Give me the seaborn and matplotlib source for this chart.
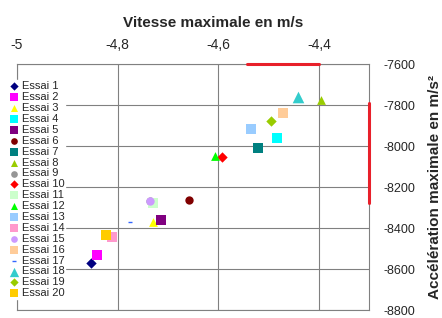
import numpy as np
import pandas as pd
import seaborn as sns
import matplotlib.pyplot as plt
from matplotlib.ticker import FuncFormatter

# values
essais = ["Essai %d" % i for i in range(1, 21)]
vitesse = [-4.852, -4.841, -4.729, -4.483, -4.714, -4.659, -4.521, -4.395, -4.735, -4.592,
           -4.729, -4.606, -4.536, -4.812, -4.735, -4.472, -4.776, -4.441, -4.495, -4.824]
acceleration = [-8568, -8530, -8368, -7958, -8360, -8262, -8007, -7774, -8268, -8054,
                -8278, -8047, -7916, -8444, -8268, -7839, -8369, -7761, -7877, -8436]
couleurs = ["#000080", "#FF00FF", "#FFFF00", "#00FFFF", "#800080", "#800000", "#008080",
            "#99CC00", "#969696", "#FF0000", "#CCFFCC", "#00FF00", "#99CCFF", "#FF99CC",
            "#CC99FF", "#FFCC99", "#3366FF", "#33CCCC", "#99CC00", "#FFCC00"]
marqueurs = ["D", "s", "^", "s", "s", "o", "s", "^", "o", "D",
             "s", "^", "s", "s", "o", "s", "_", "^", "D", "s"]
tailles = [28, 50, 40, 50, 50, 36, 50, 40, 36, 28,
           50, 40, 50, 50, 36, 50, 12, 70, 28, 50]

x_ticks = [-5, -4.8, -4.6, -4.4]
y_ticks = [-7600, -7800, -8000, -8200, -8400, -8600, -8800]

# red bars seen along the top and right edges
barre_h_x = [-4.5425, -4.4]
barre_h_y = [-7600, -7600]
barre_v_x = [-4.3, -4.3]
barre_v_y = [-7789, -8277]

df = pd.DataFrame({"essai": essais, "vitesse": vitesse, "acceleration": acceleration})

sns.set_style("white")
plt.rcParams["font.family"] = ["Liberation Sans", "DejaVu Sans"]
plt.rcParams["axes.unicode_minus"] = False

fig = plt.figure(figsize=(4.42, 3.18), dpi=100)
ax = fig.add_axes([0.0385, 0.025, 0.797, 0.773])

for i, row in df.iterrows():
    sns.scatterplot(x=[row.vitesse], y=[row.acceleration], ax=ax, marker=marqueurs[i],
                    color=couleurs[i], s=tailles[i], linewidth=0 if marqueurs[i] != "_" else 1.0,
                    edgecolor=couleurs[i], label=row.essai, zorder=3)

ax.plot(barre_h_x, barre_h_y, color="#E8202A", lw=2.2, clip_on=False, zorder=4)
ax.plot(barre_v_x, barre_v_y, color="#E8202A", lw=2.2, clip_on=False, zorder=4)

ax.set_xlim(-5, -4.3)
ax.set_ylim(-8800, -7600)
ax.set_xticks(x_ticks)
ax.set_yticks(y_ticks)
ax.xaxis.set_major_formatter(FuncFormatter(lambda v, p: ("%g" % v).replace(".", ",")))
ax.xaxis.tick_top()
ax.xaxis.set_label_position("top")
ax.yaxis.tick_right()
ax.yaxis.set_label_position("right")
ax.tick_params(axis="x", length=0, labelsize=10, pad=9)
ax.tick_params(axis="y", length=0, labelsize=9, pad=10)
ax.grid(True, color="#808080", lw=0.8)
for sp in ax.spines.values():
    sp.set_color("#808080")
    sp.set_linewidth(0.8)

ax.set_xlabel("Vitesse maximale en m/s", fontsize=11, fontweight="bold", labelpad=8)
ax.xaxis.label.set_x(0.557)
ax.set_ylabel("Accélération maximale en m/s²", fontsize=11, fontweight="bold", labelpad=9)

leg = ax.legend(loc="upper left", bbox_to_anchor=(-0.025, 0.935), frameon=True, fontsize=8,
                labelspacing=0.08, handletextpad=0.2, handlelength=0.9, borderpad=0.1,
                borderaxespad=0, markerscale=0.8)
leg.get_frame().set_edgecolor("white")
leg.get_frame().set_facecolor("white")
leg.get_frame().set_alpha(1)

fig.savefig("out.png", dpi=100)
